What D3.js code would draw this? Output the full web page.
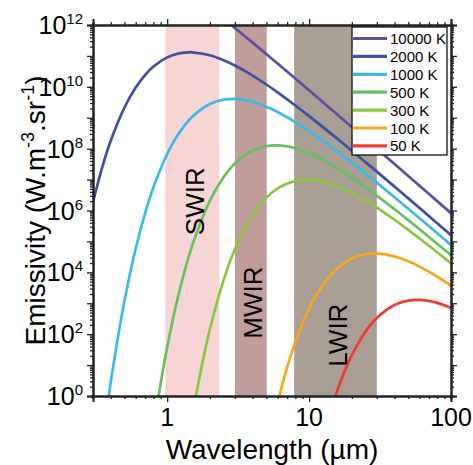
<!DOCTYPE html>
<html>
<head>
<meta charset="utf-8">
<script src="https://cdn.jsdelivr.net/npm/d3@7"></script>
<style>
  html, body { margin: 0; padding: 0; background: #fff; }
  svg { display: block; font-family: "Liberation Sans", Arial, sans-serif; }
</style>
</head>
<body>
<svg id="chart" width="473" height="465"></svg>
<script>
// ---------------- data ----------------
const seriesNames = ["10000 K", "2000 K", "1000 K", "500 K", "300 K", "100 K", "50 K"];
const seriesColors = ["#5b4fa4", "#3d50a4", "#3db8ea", "#68be62", "#8cc63f", "#f9a51b", "#ee3b2b"];

const wl10000 = [2, 2.5, 3, 4, 5, 6, 8, 10, 15, 20, 30, 40, 50, 70, 100];
const em10000 = [3.53e12, 1.57e12, 7.96e11, 2.69e11, 1.14e11, 5.65e10, 1.85e10, 7.71e9, 1.56e9, 4.99e8, 9.98e7, 3.18e7, 1.31e7, 3.41e6, 8.22e5];

const wl2000 = [0.3, 0.35, 0.4, 0.5, 0.6, 0.7, 0.8, 1, 1.2, 1.4, 1.5, 2, 2.5, 3, 4, 5, 6, 8, 10, 15, 20, 30, 40, 50, 70, 100];
const em2000 = [1.89e6, 2.68e7, 1.80e8, 2.15e9, 9.51e9, 2.44e10, 4.53e10, 8.95e10, 1.20e11, 1.31e11, 1.31e11, 1.05e11, 7.26e10, 4.90e10, 2.31e10, 1.19e10, 6.61e9, 2.49e9, 1.13e9, 2.55e8, 8.61e7, 1.81e7, 5.92e6, 2.47e6, 6.55e5, 1.60e5];

const wl1000 = [0.35, 0.4, 0.5, 0.6, 0.7, 0.8, 1, 1.2, 1.5, 2, 2.5, 3, 3.5, 4, 5, 6, 8, 10, 15, 20, 30, 40, 50, 70, 100];
const em1000 = [3.17e-2, 2.78, 1.21e3, 5.90e4, 8.39e5, 5.62e6, 6.71e7, 2.97e8, 1.07e9, 2.80e9, 3.87e9, 4.08e9, 3.78e9, 3.28e9, 2.27e9, 1.53e9, 7.23e8, 3.71e8, 9.73e7, 3.53e7, 7.96e6, 2.69e6, 1.14e6, 3.10e5, 7.71e4];

const wl500 = [0.8, 0.9, 1, 1.2, 1.5, 2, 2.5, 3, 4, 5, 6, 7, 8, 10, 12, 15, 20, 30, 40, 50, 70, 100];
const em500 = [8.69e-2, 2.62, 37.9, 1.85e3, 7.29e4, 2.10e6, 1.22e7, 3.34e7, 8.75e7, 1.21e8, 1.28e8, 1.18e8, 1.03e8, 7.10e7, 4.79e7, 2.70e7, 1.16e7, 3.04e6, 1.10e6, 4.90e5, 1.39e5, 3.57e4];

const wl300 = [1.5, 1.6, 1.8, 2, 2.5, 3, 4, 5, 6, 8, 10, 12, 15, 20, 30, 40, 50, 70, 100];
const em300 = [0.204, 1.09, 16.9, 144, 5.68e3, 5.58e4, 7.23e5, 2.60e6, 5.18e6, 9.10e6, 9.93e6, 8.95e6, 6.68e6, 3.72e6, 1.24e6, 5.02e5, 2.37e5, 7.21e4, 1.94e4];

const wl100 = [6, 6.5, 7, 8, 10, 12, 15, 20, 25, 30, 40, 50, 60, 80, 100];
const em100 = [0.590, 2.50, 8.39, 56.2, 671, 2.97e3, 1.07e4, 2.80e4, 3.87e4, 4.08e4, 3.28e4, 2.27e4, 1.53e4, 7.23e3, 3.71e3];

const wl50 = [14, 15, 16, 18, 20, 25, 30, 40, 50, 60, 70, 80, 100];
const em50 = [0.262, 0.730, 1.76, 7.19, 21.0, 122, 334, 875, 1.21e3, 1.28e3, 1.18e3, 1.03e3, 710];

const seriesWl = [wl10000, wl2000, wl1000, wl500, wl300, wl100, wl50];
const seriesEm = [em10000, em2000, em1000, em500, em300, em100, em50];

// spectral bands
const bandNames = ["SWIR", "MWIR", "LWIR"];
const bandStart = [0.97, 3, 7.85];
const bandEnd = [2.33, 5.03, 30];
const bandColors = ["#f8d5d5", "#c09c9b", "#a89e93"];
const bandLabelY = [2e6, 1.05e3, 93]; // label centre (emissivity)

// axis ticks
const xTickLabels = [1, 10, 100];
const yTickExps = [0, 2, 4, 6, 8, 10, 12];

// ---------------- layout ----------------
const svg = d3.select("#chart");
const mL = 93, mR = 451, mT = 25, mB = 396;

const x = d3.scaleLog().domain([0.3, 100]).range([mL, mR]);
const y = d3.scaleLog().domain([1, 1e12]).range([mB, mT]);

svg.append("defs").append("clipPath").attr("id", "clip")
  .append("rect").attr("x", mL).attr("y", mT).attr("width", mR - mL).attr("height", mB - mT);

// bands
const plot = svg.append("g").attr("clip-path", "url(#clip)");
bandNames.forEach((b, i) => {
  plot.append("rect")
    .attr("x", x(bandStart[i])).attr("y", mT)
    .attr("width", x(bandEnd[i]) - x(bandStart[i])).attr("height", mB - mT)
    .attr("fill", bandColors[i]);
});

// curves
const line = d3.line()
  .x(d => x(d[0])).y(d => y(d[1]))
  .curve(d3.curveCatmullRom.alpha(0.5));
seriesNames.forEach((n, i) => {
  const pts = seriesWl[i].map((w, j) => [w, seriesEm[i][j]]);
  plot.append("path").datum(pts)
    .attr("d", line)
    .attr("fill", "none")
    .attr("stroke", seriesColors[i])
    .attr("stroke-width", 2.7);
});

// band labels
bandNames.forEach((b, i) => {
  const cx = (x(bandStart[i]) + x(bandEnd[i])) / 2;
  svg.append("text")
    .attr("transform", `translate(${cx + 11.5},${y(bandLabelY[i])}) rotate(-90)`)
    .attr("text-anchor", "middle")
    .attr("font-size", 26)
    .attr("fill", "#000")
    .text(b);
});

// axes
const axisColor = "#222";
const xMinor = [];
[0.1, 1, 10].forEach(d => { for (let k = 2; k <= 9; k++) { const v = d * k; if (v >= 0.3 && v <= 100) xMinor.push(v); } });
const yMinor = [];
for (let e = 0; e < 12; e++) for (let k = 2; k <= 9; k++) yMinor.push(k * Math.pow(10, e));
const yMajor = d3.range(0, 13).map(e => Math.pow(10, e));

function addAxis(gen, transform, major, minor) {
  const g1 = svg.append("g").attr("transform", transform)
    .call(gen(major).tickSize(6).tickFormat(""));
  const g2 = svg.append("g").attr("transform", transform)
    .call(gen(minor).tickSize(3).tickFormat(""));
  [g1, g2].forEach(g => {
    g.selectAll("line").attr("stroke", axisColor).attr("stroke-width", 1.3);
    g.select(".domain").attr("stroke", axisColor).attr("stroke-width", 2);
  });
}
addAxis(v => d3.axisBottom(x).tickValues(v), `translate(0,${mB})`, xTickLabels, xMinor);
addAxis(v => d3.axisTop(x).tickValues(v), `translate(0,${mT})`, xTickLabels, xMinor);
addAxis(v => d3.axisLeft(y).tickValues(v), `translate(${mL},0)`, yMajor, yMinor);
addAxis(v => d3.axisRight(y).tickValues(v), `translate(${mR},0)`, yMajor, yMinor);

// x tick labels
xTickLabels.forEach(v => {
  svg.append("text").attr("x", x(v)).attr("y", mB + 30)
    .attr("text-anchor", "middle").attr("font-size", 25).attr("fill", "#000")
    .text(v);
});
// y tick labels
yTickExps.forEach(e => {
  const t = svg.append("text").attr("x", mL - 10).attr("y", y(Math.pow(10, e)) + 9)
    .attr("text-anchor", "end").attr("font-size", 25).attr("fill", "#000");
  t.append("tspan").text("10");
  t.append("tspan").attr("font-size", 15).attr("dy", -10).text(e);
});

// axis titles
svg.append("text").attr("x", (mL + mR) / 2).attr("y", 459)
  .attr("text-anchor", "middle").attr("font-size", 28).attr("fill", "#000")
  .text("Wavelength (µm)");
const yt = svg.append("text")
  .attr("transform", `translate(45,${(mT + mB) / 2}) rotate(-90)`)
  .attr("text-anchor", "middle").attr("font-size", 28).attr("fill", "#000");
yt.append("tspan").text("Emissivity (W.m");
yt.append("tspan").attr("font-size", 18).attr("dy", -11).text("-3");
yt.append("tspan").attr("dy", 11).text(".sr");
yt.append("tspan").attr("font-size", 18).attr("dy", -11).text("-1");
yt.append("tspan").attr("dy", 11).text(")");

// legend
const lg = svg.append("g");
lg.append("rect").attr("x", 352).attr("y", 27).attr("width", 95).attr("height", 128)
  .attr("fill", "#fff").attr("stroke", "#111").attr("stroke-width", 1.3);
seriesNames.forEach((n, i) => {
  const yy = 38.5 + i * 17.9;
  lg.append("line").attr("x1", 353).attr("x2", 387).attr("y1", yy).attr("y2", yy)
    .attr("stroke", seriesColors[i]).attr("stroke-width", 3.2);
  lg.append("text").attr("x", 390).attr("y", yy + 5.5)
    .attr("font-size", 15).attr("fill", "#000").text(n);
});
</script>
</body>
</html>
